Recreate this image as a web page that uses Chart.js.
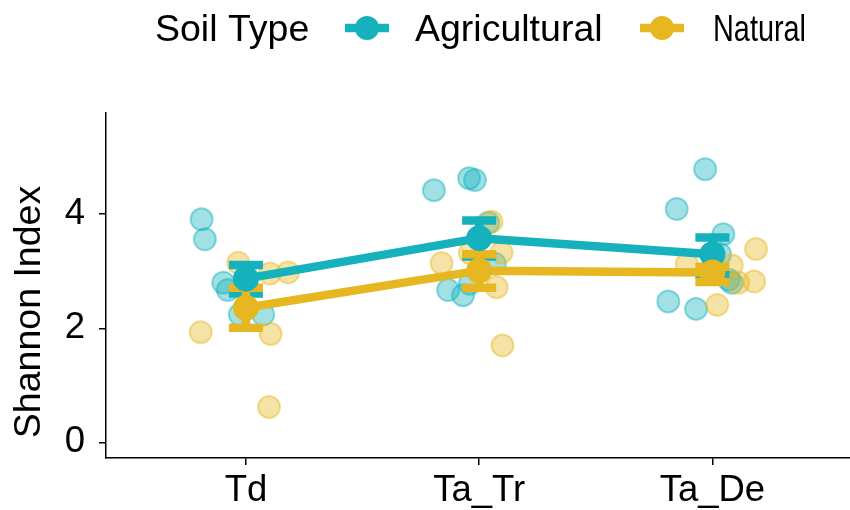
<!DOCTYPE html>
<html>
<head>
<meta charset="utf-8">
<script src="https://cdn.jsdelivr.net/npm/chart.js@4/dist/chart.umd.min.js"></script>
<style>
  html, body { margin: 0; padding: 0; background: #ffffff; overflow: hidden; }
  #wrap { width: 850px; height: 510px; }
</style>
</head>
<body>
<div id="wrap"><canvas id="c" width="850" height="510"></canvas></div>
<script>
// Sites along the x axis
const categories = ['Td', 'Ta_Tr', 'Ta_De'];

// Per-sample Shannon index, one list per site
const agriValues = [
  [3.91, 3.56, 2.80, 2.67, 2.24, 2.24],
  [4.42, 4.63, 4.60, 3.85, 3.13, 2.67, 2.58, 2.78],
  [4.79, 4.09, 3.65, 3.30, 2.80, 2.47, 2.34, 2.85]
];
const naturalValues = [
  [3.15, 2.96, 2.98, 1.93, 1.90, 0.62],
  [3.87, 3.33, 3.14, 2.72, 1.70, 3.32],
  [3.39, 3.13, 3.10, 2.80, 2.82, 2.41]
];

// Horizontal jitter of each sample, in category units
const agriJitter = [
  [-0.190, -0.176, -0.097, -0.078, -0.026, 0.074],
  [-0.194, -0.043, -0.018, 0.039, 0.067, -0.133, -0.069, -0.040],
  [-0.031, -0.153, 0.047, 0.033, 0.083, -0.189, -0.070, 0.070]
];
const naturalJitter = [
  [-0.033, 0.103, 0.181, -0.194, 0.106, 0.099],
  [0.053, 0.096, -0.161, 0.075, 0.100, -0.040],
  [0.187, -0.110, 0.083, 0.111, 0.179, 0.021]
];

// Group means with lower / upper error limits
const agriMean  = [2.87, 3.58, 3.30];
const agriLow   = [2.61, 3.26, 2.94];
const agriHigh  = [3.11, 3.89, 3.59];
const naturalMean = [2.36, 3.01, 2.98];
const naturalLow  = [2.01, 2.71, 2.81];
const naturalHigh = [2.71, 3.30, 3.08];

const yTicks = [0, 2, 4];
const yTitle = 'Shannon Index';

const TEAL = '#15B1BD';
const GOLD = '#E6B721';
const FONT = '"Liberation Sans", Arial, Helvetica, sans-serif';

function jitterPoints(values, jitter) {
  const pts = [];
  values.forEach((list, i) => {
    list.forEach((v, k) => pts.push({ x: i + 1 + jitter[i][k], y: v }));
  });
  return pts;
}
function meanPoints(means) {
  return means.map((v, i) => ({ x: i + 1, y: v }));
}

// Error bars sit beneath the mean lines and points
const errorBarPlugin = {
  id: 'errorBars',
  beforeDatasetDraw(chart, args) {
    if (chart.data.datasets[args.index].id !== 'agriMean') return;
    const xs = chart.scales.x, ys = chart.scales.y;
    const ctx = chart.ctx;
    const capHalf = 0.073;
    const groups = [
      { color: TEAL, low: agriLow, high: agriHigh },
      { color: GOLD, low: naturalLow, high: naturalHigh }
    ];
    ctx.save();
    ctx.lineCap = 'butt';
    ctx.lineWidth = 8.5;
    groups.forEach(g => {
      ctx.strokeStyle = g.color;
      categories.forEach((c, i) => {
        const xc = xs.getPixelForValue(i + 1);
        const xl = xs.getPixelForValue(i + 1 - capHalf);
        const xr = xs.getPixelForValue(i + 1 + capHalf);
        const yl = ys.getPixelForValue(g.low[i]);
        const yh = ys.getPixelForValue(g.high[i]);
        ctx.beginPath();
        ctx.moveTo(xc, yl); ctx.lineTo(xc, yh);
        ctx.moveTo(xl, yl); ctx.lineTo(xr, yl);
        ctx.moveTo(xl, yh); ctx.lineTo(xr, yh);
        ctx.stroke();
      });
    });
    ctx.restore();
  }
};

// Legend in a single row above the panel, plus the rotated y-axis title
const legendPlugin = {
  id: 'rowLegend',
  afterDraw(chart) {
    const ctx = chart.ctx;
    ctx.save();
    ctx.fillStyle = '#000000';
    ctx.textBaseline = 'alphabetic';
    ctx.font = '37.5px ' + FONT;
    ctx.fillText('Soil Type', 155, 41);
    const items = [
      { color: TEAL, label: 'Agricultural', x0: 345, tx: 415, maxW: 192 },
      { color: GOLD, label: 'Natural', x0: 640, tx: 713, maxW: 93 }
    ];
    items.forEach(it => {
      ctx.strokeStyle = it.color;
      ctx.lineWidth = 8.5;
      ctx.beginPath();
      ctx.moveTo(it.x0, 28);
      ctx.lineTo(it.x0 + 44, 28);
      ctx.stroke();
      ctx.fillStyle = it.color;
      ctx.beginPath();
      ctx.arc(it.x0 + 22, 28, 12, 0, Math.PI * 2);
      ctx.fill();
      ctx.fillStyle = '#000000';
      ctx.fillText(it.label, it.tx, 41, it.maxW);
    });

    ctx.translate(30, 312);
    ctx.rotate(-Math.PI / 2);
    ctx.textAlign = 'center';
    ctx.textBaseline = 'middle';
    ctx.font = '37.5px ' + FONT;
    ctx.fillStyle = '#000000';
    ctx.fillText(yTitle, 0, 0);
    ctx.restore();
  }
};

new Chart(document.getElementById('c'), {
  type: 'scatter',
  data: {
    datasets: [
      {
        id: 'agriJitter',
        data: jitterPoints(agriValues, agriJitter),
        backgroundColor: 'rgba(21,177,189,0.40)',
        borderColor: 'rgba(21,177,189,0.45)',
        borderWidth: 2,
        pointRadius: 11,
        order: 4
      },
      {
        id: 'naturalJitter',
        data: jitterPoints(naturalValues, naturalJitter),
        backgroundColor: 'rgba(230,183,33,0.40)',
        borderColor: 'rgba(230,183,33,0.45)',
        borderWidth: 2,
        pointRadius: 11,
        order: 3
      },
      {
        id: 'agriMean',
        data: meanPoints(agriMean),
        showLine: true,
        borderColor: TEAL,
        backgroundColor: TEAL,
        borderWidth: 8.5,
        pointRadius: 13,
        pointBorderWidth: 0,
        order: 2
      },
      {
        id: 'naturalMean',
        data: meanPoints(naturalMean),
        showLine: true,
        borderColor: GOLD,
        backgroundColor: GOLD,
        borderWidth: 8.5,
        pointRadius: 13,
        pointBorderWidth: 0,
        order: 1
      }
    ]
  },
  options: {
    responsive: false,
    animation: false,
    events: [],
    layout: { autoPadding: false, padding: { top: 113, left: 0, right: 0, bottom: 0 } },
    plugins: { legend: { display: false }, tooltip: { enabled: false } },
    scales: {
      x: {
        type: 'linear',
        min: 0.4,
        max: 3.59,
        afterBuildTicks(scale) { scale.ticks = categories.map((c, i) => ({ value: i + 1 })); },
        afterFit(scale) {
          scale.height = 52;
          scale.paddingLeft = 0;
          scale.paddingRight = 0;
        },
        ticks: {
          autoSkip: false,
          maxRotation: 0,
          padding: 4,
          color: '#000000',
          font: { family: FONT, size: 36.5 },
          callback: (v) => categories[v - 1]
        },
        grid: { display: true, drawOnChartArea: false, drawTicks: true, tickLength: 7, color: '#000000', lineWidth: 1.5 },
        border: { display: true, color: '#000000', width: 1.5 }
      },
      y: {
        type: 'linear',
        min: -0.275,
        max: 5.775,
        afterBuildTicks(scale) { scale.ticks = yTicks.map(v => ({ value: v })); },
        afterFit(scale) {
          scale.width = 106;
          scale.paddingTop = 0;
          scale.paddingBottom = 0;
        },
        ticks: {
          padding: 14,
          color: '#000000',
          font: { family: FONT, size: 36.5 }
        },
        title: { display: false },
        grid: { display: true, drawOnChartArea: false, drawTicks: true, tickLength: 7, color: '#000000', lineWidth: 1.5 },
        border: { display: true, color: '#000000', width: 1.5 }
      }
    }
  },
  plugins: [errorBarPlugin, legendPlugin]
});
</script>
</body>
</html>
